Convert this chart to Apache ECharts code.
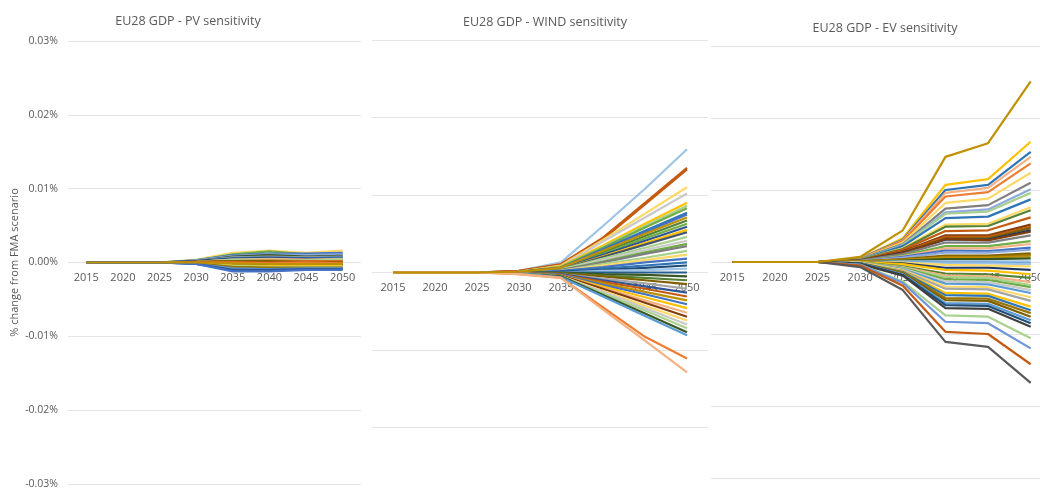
<!DOCTYPE html>
<html>
<head>
<meta charset="utf-8">
<script src="https://cdn.jsdelivr.net/npm/echarts@6/dist/echarts.min.js"></script>
<style>
html,body{margin:0;padding:0;background:#fff;}
#c{width:1040px;height:495px;}
</style>
</head>
<body>
<div id="c"></div>
<script>
// ---------- DATA ----------
const years = ['2015', '2020', '2025', '2030', '2035', '2040', '2045', '2050'];
const panelTitles = ['EU28 GDP - PV sensitivity', 'EU28 GDP - WIND sensitivity', 'EU28 GDP - EV sensitivity'];
const yAxisName = '% change from FMA scenario';

// values in % change (0.01 = 0.01%)
const pvValues = [
  [0, 0, 0, 0.0004, 0.0013, 0.0016, 0.0013, 0.0016],
  [0, 0, 0, 0.0003, 0.0011, 0.0015, 0.0011, 0.0012],
  [0, 0, 0, 0.0003, 0.0010, 0.0012, 0.0012, 0.0013],
  [0, 0, 0, 0.0003, 0.0009, 0.0011, 0.0010, 0.0011],
  [0, 0, 0, 0.0002, 0.0008, 0.0010, 0.0008, 0.0009],
  [0, 0, 0, 0.0002, 0.0007, 0.0008, 0.0007, 0.0008],
  [0, 0, 0, 0.0002, 0.0006, 0.0007, 0.0006, 0.0007],
  [0, 0, 0, 0.0002, 0.0005, 0.0006, 0.0005, 0.0005],
  [0, 0, 0, 0.0001, 0.0004, 0.0005, 0.0004, 0.0005],
  [0, 0, 0, 0.0001, 0.0004, 0.0004, 0.0003, 0.0004],
  [0, 0, 0, 0.0001, 0.0002, 0.0003, 0.0002, 0.0002],
  [0, 0, 0, 0.0001, 0.0002, 0.0002, 0.0001, 0.0001],
  [0, 0, 0, 0.0000, 0.0001, 0.0000, 0.0001, 0.0000],
  [0, 0, 0, 0.0000, 0.0000, -0.0001, 0.0000, -0.0001],
  [0, 0, 0, -0.0001, -0.0002, -0.0003, -0.0003, -0.0003],
  [0, 0, 0, -0.0001, -0.0003, -0.0004, -0.0004, -0.0004],
  [0, 0, 0, -0.0001, -0.0004, -0.0005, -0.0005, -0.0005],
  [0, 0, 0, -0.0001, -0.0005, -0.0006, -0.0006, -0.0006],
  [0, 0, 0, -0.0001, -0.0006, -0.0007, -0.0007, -0.0007],
  [0, 0, 0, -0.0002, -0.0008, -0.0009, -0.0008, -0.0008],
  [0, 0, 0, -0.0002, -0.0010, -0.0010, -0.0009, -0.0009],
  [0, 0, 0, -0.0002, -0.0012, -0.0012, -0.0010, -0.0010],
  [0, 0, 0, 0.0000, -0.0001, -0.0002, -0.0002, -0.0002]
];

const windValues = [
  [0, 0, 0, 0.0002, 0.0013, 0.0060, 0.0108, 0.0159],
  [0, 0, 0, 0.0002, 0.0011, 0.0045, 0.0090, 0.0135],
  [0, 0, 0, 0.0002, 0.0010, 0.0043, 0.0088, 0.0133],
  [0, 0, 0, 0.0001, 0.0009, 0.0042, 0.0076, 0.0110],
  [0, 0, 0, 0.0001, 0.0008, 0.0040, 0.0071, 0.0102],
  [0, 0, 0, 0.0001, 0.0008, 0.0035, 0.0063, 0.0090],
  [0, 0, 0, 0.0001, 0.0007, 0.0033, 0.0060, 0.0086],
  [0, 0, 0, 0.0001, 0.0007, 0.0032, 0.0058, 0.0083],
  [0, 0, 0, 0.0001, 0.0006, 0.0030, 0.0054, 0.0077],
  [0, 0, 0, 0.0001, 0.0006, 0.0029, 0.0052, 0.0075],
  [0, 0, 0, 0.0001, 0.0005, 0.0026, 0.0047, 0.0067],
  [0, 0, 0, 0.0001, 0.0005, 0.0024, 0.0044, 0.0063],
  [0, 0, 0, 0.0001, 0.0005, 0.0023, 0.0041, 0.0059],
  [0, 0, 0, 0.0001, 0.0004, 0.0021, 0.0038, 0.0055],
  [0, 0, 0, 0.0001, 0.0004, 0.0020, 0.0036, 0.0052],
  [0, 0, 0, 0.0001, 0.0004, 0.0018, 0.0032, 0.0046],
  [0, 0, 0, 0.0001, 0.0003, 0.0016, 0.0029, 0.0041],
  [0, 0, 0, 0.0001, 0.0003, 0.0014, 0.0026, 0.0037],
  [0, 0, 0, 0.0001, 0.0003, 0.0013, 0.0024, 0.0034],
  [0, 0, 0, 0.0001, 0.0002, 0.0011, 0.0019, 0.0028],
  [0, 0, 0, 0.0000, 0.0002, 0.0009, 0.0016, 0.0023],
  [0, 0, 0, 0.0000, 0.0002, 0.0007, 0.0013, 0.0018],
  [0, 0, 0, 0.0000, 0.0001, 0.0005, 0.0009, 0.0013],
  [0, 0, 0, 0.0000, 0.0001, 0.0003, 0.0006, 0.0009],
  [0, 0, 0, 0.0000, 0.0000, 0.0002, 0.0003, 0.0005],
  [0, 0, 0, 0.0000, 0.0000, 0.0000, 0.0000, 0.0000],
  [0, 0, 0, 0.0000, 0.0000, -0.0002, -0.0003, -0.0005],
  [0, 0, 0, 0.0000, -0.0001, -0.0004, -0.0007, -0.0010],
  [0, 0, 0, 0.0000, -0.0001, -0.0005, -0.0010, -0.0015],
  [0, 0, 0, -0.0001, -0.0002, -0.0008, -0.0014, -0.0021],
  [0, 0, 0, -0.0001, -0.0002, -0.0010, -0.0018, -0.0026],
  [0, 0, 0, -0.0001, -0.0003, -0.0012, -0.0021, -0.0031],
  [0, 0, 0, -0.0001, -0.0003, -0.0014, -0.0025, -0.0036],
  [0, 0, 0, -0.0001, -0.0003, -0.0016, -0.0028, -0.0041],
  [0, 0, 0, -0.0001, -0.0004, -0.0018, -0.0032, -0.0046],
  [0, 0, 0, -0.0001, -0.0004, -0.0020, -0.0036, -0.0052],
  [0, 0, 0, -0.0001, -0.0004, -0.0021, -0.0039, -0.0057],
  [0, 0, 0, -0.0001, -0.0005, -0.0024, -0.0043, -0.0062],
  [0, 0, 0, -0.0001, -0.0005, -0.0025, -0.0046, -0.0067],
  [0, 0, 0, -0.0001, -0.0005, -0.0027, -0.0049, -0.0072],
  [0, 0, 0, -0.0001, -0.0005, -0.0029, -0.0053, -0.0077],
  [0, 0, 0, -0.0001, -0.0006, -0.0031, -0.0056, -0.0081],
  [0, 0, 0, -0.0002, -0.0007, -0.0045, -0.0083, -0.0111],
  [0, 0, 0, -0.0002, -0.0007, -0.0048, -0.0088, -0.0129],
  [0, 0, 0, 0.0001, 0.0006, 0.0028, 0.0050, 0.0071]
];

const evValues = [
  [0, 0, 0, 0.0005, 0.0033, 0.0107, 0.0115, 0.0167],
  [0, 0, 0, 0.0005, 0.0031, 0.0100, 0.0107, 0.0153],
  [0, 0, 0, 0.0004, 0.0030, 0.0096, 0.0103, 0.0146],
  [0, 0, 0, 0.0004, 0.0029, 0.0091, 0.0097, 0.0137],
  [0, 0, 0, 0.0004, 0.0027, 0.0082, 0.0088, 0.0124],
  [0, 0, 0, 0.0004, 0.0025, 0.0074, 0.0079, 0.0110],
  [0, 0, 0, 0.0003, 0.0024, 0.0069, 0.0073, 0.0101],
  [0, 0, 0, 0.0003, 0.0023, 0.0067, 0.0070, 0.0096],
  [0, 0, 0, 0.0003, 0.0022, 0.0061, 0.0063, 0.0087],
  [0, 0, 0, 0.0003, 0.0019, 0.0052, 0.0053, 0.0076],
  [0, 0, 0, 0.0003, 0.0018, 0.0049, 0.0050, 0.0072],
  [0, 0, 0, 0.0002, 0.0017, 0.0043, 0.0044, 0.0062],
  [0, 0, 0, 0.0002, 0.0015, 0.0037, 0.0037, 0.0052],
  [0, 0, 0, 0.0002, 0.0014, 0.0035, 0.0035, 0.0049],
  [0, 0, 0, 0.0002, 0.0013, 0.0033, 0.0033, 0.0047],
  [0, 0, 0, 0.0002, 0.0013, 0.0031, 0.0031, 0.0044],
  [0, 0, 0, 0.0002, 0.0012, 0.0032, 0.0030, 0.0042],
  [0, 0, 0, 0.0002, 0.0011, 0.0027, 0.0027, 0.0037],
  [0, 0, 0, 0.0001, 0.0009, 0.0022, 0.0022, 0.0029],
  [0, 0, 0, 0.0001, 0.0008, 0.0019, 0.0019, 0.0025],
  [0, 0, 0, 0.0001, 0.0007, 0.0016, 0.0015, 0.0020],
  [0, 0, 0, 0.0001, 0.0006, 0.0013, 0.0013, 0.0017],
  [0, 0, 0, 0.0001, 0.0004, 0.0009, 0.0009, 0.0012],
  [0, 0, 0, 0.0001, 0.0003, 0.0007, 0.0007, 0.0010],
  [0, 0, 0, 0.0001, 0.0003, 0.0006, 0.0006, 0.0008],
  [0, 0, 0, 0.0000, 0.0002, 0.0004, 0.0004, 0.0005],
  [0, 0, 0, 0.0000, 0.0001, 0.0001, 0.0001, 0.0001],
  [0, 0, 0, 0.0000, 0.0000, -0.0001, -0.0001, -0.0002],
  [0, 0, 0, 0.0000, -0.0001, -0.0002, -0.0002, -0.0003],
  [0, 0, 0, 0.0000, -0.0001, -0.0004, -0.0005, -0.0006],
  [0, 0, 0, 0.0000, -0.0002, -0.0008, -0.0008, -0.0011],
  [0, 0, 0, 0.0000, -0.0003, -0.0011, -0.0012, -0.0017],
  [0, 0, 0, -0.0001, -0.0006, -0.0016, -0.0017, -0.0022],
  [0, 0, 0, -0.0001, -0.0007, -0.0019, -0.0020, -0.0028],
  [0, 0, 0, -0.0001, -0.0008, -0.0021, -0.0022, -0.0032],
  [0, 0, 0, -0.0001, -0.0008, -0.0024, -0.0025, -0.0035],
  [0, 0, 0, -0.0001, -0.0009, -0.0027, -0.0028, -0.0039],
  [0, 0, 0, -0.0001, -0.0010, -0.0030, -0.0031, -0.0043],
  [0, 0, 0, -0.0001, -0.0011, -0.0034, -0.0035, -0.0049],
  [0, 0, 0, -0.0002, -0.0012, -0.0037, -0.0038, -0.0054],
  [0, 0, 0, -0.0002, -0.0013, -0.0043, -0.0044, -0.0062],
  [0, 0, 0, -0.0002, -0.0014, -0.0046, -0.0047, -0.0067],
  [0, 0, 0, -0.0002, -0.0015, -0.0050, -0.0051, -0.0071],
  [0, 0, 0, -0.0002, -0.0016, -0.0053, -0.0054, -0.0076],
  [0, 0, 0, -0.0002, -0.0017, -0.0057, -0.0058, -0.0081],
  [0, 0, 0, -0.0002, -0.0018, -0.0060, -0.0061, -0.0085],
  [0, 0, 0, -0.0003, -0.0019, -0.0064, -0.0065, -0.0090],
  [0, 0, 0, -0.0004, -0.0027, -0.0074, -0.0076, -0.0106],
  [0, 0, 0, -0.0004, -0.0029, -0.0083, -0.0085, -0.0120],
  [0, 0, 0, -0.0005, -0.0033, -0.0097, -0.0100, -0.0142],
  [0, 0, 0, -0.0007, -0.0039, -0.0111, -0.0118, -0.0168],
  [0, 0, 0, 0.0007, 0.0044, 0.0146, 0.0165, 0.0251]
];

// ---------- STYLES ----------
const pvColors = ['#FFD966', '#70AD47', '#4472C4', '#8FAADC', '#385723', '#A5A5A5', '#2E75B6', '#264478',
  '#F4B183', '#A9D18E', '#ED7D31', '#7F6000', '#C55A11', '#ED7D31', '#404040', '#548235', '#FFC000',
  '#A9D18E', '#997300', '#5B9BD5', '#2F5597', '#4472C4', '#BF9000'];
const windColors = ['#9DC3E6', '#C55A11', '#C55A11', '#FFD966', '#C9C9C9', '#FFC000', '#A9D18E', '#70AD47',
  '#2E75B6', '#4472C4', '#548235', '#70AD47', '#2F5597', '#FFC000', '#44546A', '#A9D18E', '#C9C9C9',
  '#70AD47', '#7F7F7F', '#A9D18E', '#FFD966', '#4472C4', '#2E75B6', '#1F4E79', '#9DC3E6', '#255E91',
  '#385723', '#548235', '#7F6000', '#A5A5A5', '#2F5597', '#C55A11', '#BF9000', '#4472C4', '#FFC000',
  '#F4B183', '#843C0C', '#FFD966', '#C9C9C9', '#A9D18E', '#385723', '#5B9BD5', '#ED7D31', '#F4B183',
  '#BF9000'];
const evColors = ['#FFC000', '#2E75B6', '#F4B183', '#ED7D31', '#FFD966', '#7F7F7F', '#8FAADC', '#A9D18E',
  '#2E75B6', '#FFD966', '#548235', '#C55A11', '#843C0C', '#C55A11', '#7F6000', '#203864', '#843C0C',
  '#7F7F7F', '#70AD47', '#F4B183', '#4472C4', '#8FAADC', '#7F6000', '#997300', '#BF9000', '#385723',
  '#9DC3E6', '#5B9BD5', '#9DC3E6', '#FFD966', '#203864', '#FFC000', '#548235', '#F4B183', '#A9D18E',
  '#70AD47', '#C9C9C9', '#5B9BD5', '#FFD966', '#A5A5A5', '#FFC000', '#2E75B6', '#997300', '#7F6000',
  '#5B9BD5', '#1F4E79', '#404040', '#A9D18E', '#6F96D9', '#C55A11', '#595959', '#BF9000'];

const textColor = '#595959';
const gridColor = '#E4E4E4';
const fontFam = '"Open Sans", "Liberation Sans", sans-serif';

const chart = echarts.init(document.getElementById('c'), null, {renderer: 'canvas'});

const grids = [
  {left: 68, top: 41, width: 293, height: 443, outerBoundsMode: 'none', containLabel: false},
  {left: 372, top: 40, width: 336, height: 465, outerBoundsMode: 'none', containLabel: false},
  {left: 711, top: 46, width: 341, height: 432, outerBoundsMode: 'none', containLabel: false}
];
const titleCenters = [[183, 10], [540, 11], [880, 17]];

function xAx(i) {
  return {
    type: 'category', gridIndex: i, data: years, boundaryGap: true,
    position: 'bottom',
    offset: -grids[i].height / 2,
    axisLine: {show: true, onZero: false, lineStyle: {color: gridColor}},
    axisTick: {show: false},
    axisLabel: {color: textColor, fontSize: 11, fontFamily: fontFam, margin: 10, interval: 0,
      hideOverlap: false}
  };
}
function yAx(i) {
  return {
    type: 'value', gridIndex: i, min: -0.03, max: 0.03, interval: 0.01,
    axisLine: {show: false}, axisTick: {show: false},
    splitLine: {show: true, lineStyle: {color: gridColor, width: 1}},
    axisLabel: {show: i === 0, color: textColor, fontSize: 10.5, fontFamily: fontFam, margin: 10,
      formatter: v => v.toFixed(2) + '%'},
    name: i === 0 ? yAxisName : '',
    nameLocation: 'middle', nameGap: 48, nameRotate: 90,
    nameTextStyle: {color: textColor, fontSize: 11, fontFamily: fontFam}
  };
}

const series = [];
[[pvValues, pvColors], [windValues, windColors], [evValues, evColors]].forEach(([vals, cols], p) => {
  vals.forEach((row, k) => {
    series.push({
      type: 'line', xAxisIndex: p, yAxisIndex: p, data: row,
      symbol: 'none', smooth: false, silent: true,
      lineStyle: {width: 2.2, color: cols[k % cols.length]},
      itemStyle: {color: cols[k % cols.length]}
    });
  });
});

chart.setOption({
  animation: false,
  backgroundColor: '#ffffff',
  title: panelTitles.map((t, i) => ({
    text: t, left: titleCenters[i][0], top: titleCenters[i][1], textAlign: 'center',
    textStyle: {color: textColor, fontSize: 12.5, fontWeight: 'normal', fontFamily: fontFam}
  })),
  grid: grids,
  xAxis: [xAx(0), xAx(1), xAx(2)],
  yAxis: [yAx(0), yAx(1), yAx(2)],
  series: series
});
</script>
</body>
</html>
